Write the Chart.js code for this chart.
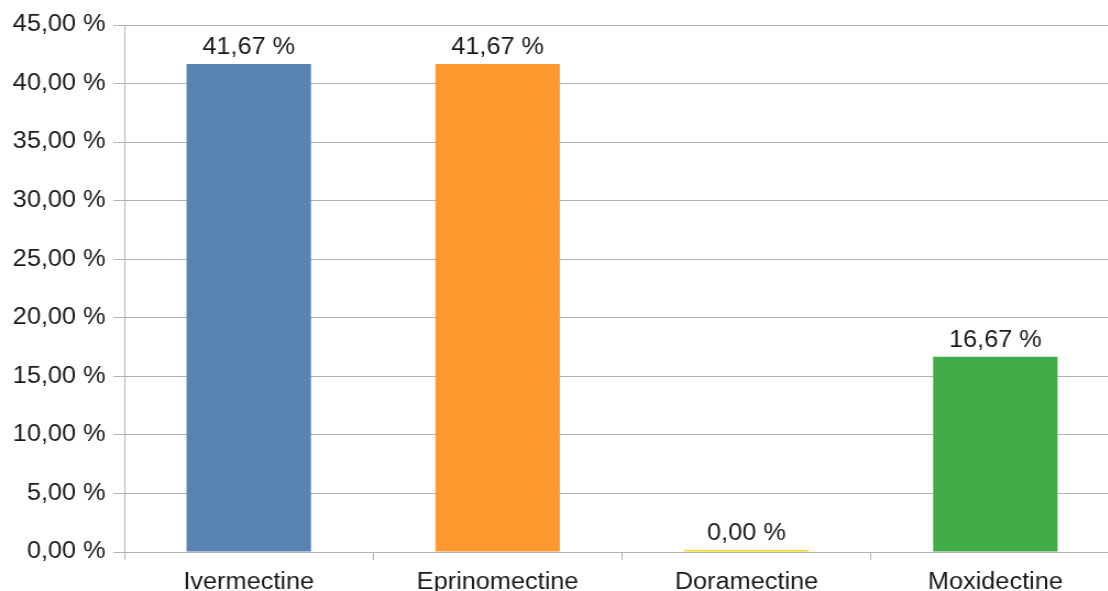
<!DOCTYPE html>
<html><head><meta charset="utf-8">
<script src="https://cdn.jsdelivr.net/npm/chart.js@4/dist/chart.umd.min.js"></script>
<style>
html,body{margin:0;padding:0;overflow:hidden;background:#fff;width:1108px;height:591px;}
#wrap{position:absolute;left:0;top:0;width:1021px;height:600px;transform:scaleX(1.1);transform-origin:0 0;}
canvas{display:block}
</style></head><body>
<div id="wrap"><canvas id="c" width="1021" height="600"></canvas></div>
<script>
const categories = ['Ivermectine', 'Eprinomectine', 'Doramectine', 'Moxidectine'];
const values = [41.67, 41.67, 0.00, 16.67];
const barColors = ['#5983b0', '#ff982f', '#ffd320', '#40ad48'];
const yMin = 0, yMax = 45, yStep = 5;

const fmt = v => v.toFixed(2).replace('.', ',') + ' %';
const FONT = { family: '"Liberation Sans", Arial, sans-serif', size: 23 };
const GRID = '#b3b3b3';
const TEXT = '#1a1a1a';

const valueLabels = {
  id: 'valueLabels',
  afterDatasetsDraw(chart) {
    const ctx = chart.ctx;
    const meta = chart.getDatasetMeta(0);
    ctx.save();
    ctx.font = FONT.size + 'px ' + FONT.family;
    ctx.fillStyle = TEXT;
    ctx.textAlign = 'center';
    ctx.textBaseline = 'alphabetic';
    meta.data.forEach((el, i) => {
      ctx.fillText(fmt(values[i]), el.x, el.y - 10);
    });
    ctx.restore();
  }
};

new Chart(document.getElementById('c'), {
  type: 'bar',
  data: {
    labels: categories,
    datasets: [{
      data: values,
      backgroundColor: barColors,
      borderWidth: 0,
      barPercentage: 0.5,
      categoryPercentage: 1,
      minBarLength: 2
    }]
  },
  options: {
    responsive: false,
    animation: false,
    devicePixelRatio: 1,
    layout: { padding: { top: 25, right: 3, left: 0, bottom: 0 } },
    plugins: { legend: { display: false }, tooltip: { enabled: false } },
    scales: {
      x: {
        type: 'category',
        offset: true,
        grid: { offset: true, drawOnChartArea: false, drawTicks: true, tickLength: 8, color: GRID },
        border: { display: true, color: GRID },
        ticks: { font: FONT, color: TEXT, padding: 9, maxRotation: 0 },
        afterFit: s => { s.height = 48; }
      },
      y: {
        min: yMin, max: yMax,
        grid: { color: GRID, tickLength: 10 },
        border: { display: true, color: GRID },
        ticks: { stepSize: yStep, font: FONT, color: TEXT, padding: 7, callback: v => fmt(v) },
        afterFit: s => { s.width = 113; }
      }
    }
  },
  plugins: [valueLabels]
});
</script>
</body></html>
